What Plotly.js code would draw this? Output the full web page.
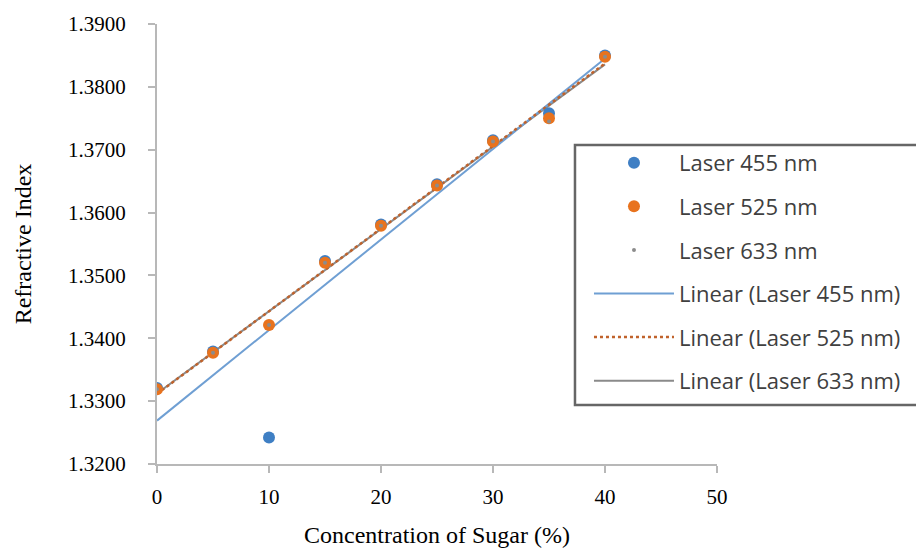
<!DOCTYPE html>
<html>
<head>
<meta charset="utf-8">
<script src="https://cdn.plot.ly/plotly-3.0.1.min.js"></script>
<style>html,body{margin:0;padding:0;background:#fff;}#chart{width:916px;height:548px;}</style>
</head>
<body>
<div id="chart"></div>
<script>
// Data
const concentration = [0, 5, 10, 15, 20, 25, 30, 35, 40];
const laser455 = [1.3321, 1.3379, 1.3242, 1.3523, 1.3581, 1.3645, 1.3715, 1.3758, 1.3850];
const laser525 = [1.3319, 1.3377, 1.3421, 1.3520, 1.3579, 1.3643, 1.3713, 1.3750, 1.3848];
const laser633 = [1.3319, 1.3377, 1.3421, 1.3520, 1.3579, 1.3643, 1.3713, 1.3745, 1.3848];
const seriesNames = ["Laser 455 nm", "Laser 525 nm", "Laser 633 nm"];
const yTickVals = [1.32, 1.33, 1.34, 1.35, 1.36, 1.37, 1.38, 1.39];
const xTickVals = [0, 10, 20, 30, 40, 50];

// least-squares linear trendline (as Excel's "Linear" trendline)
function linFit(xs, ys) {
  const n = xs.length;
  const mx = xs.reduce((a, b) => a + b, 0) / n;
  const my = ys.reduce((a, b) => a + b, 0) / n;
  let sxy = 0, sxx = 0;
  for (let i = 0; i < n; i++) { sxy += (xs[i] - mx) * (ys[i] - my); sxx += (xs[i] - mx) ** 2; }
  const m = sxy / sxx, b = my - m * mx;
  const x0 = Math.min(...xs), x1 = Math.max(...xs);
  return { x: [x0, x1], y: [b + m * x0, b + m * x1] };
}
const f455 = linFit(concentration, laser455);
const f525 = linFit(concentration, laser525);
const f633 = linFit(concentration, laser633);

const legendFont = { family: "Open Sans, sans-serif", size: 22, color: "#404040" };

const traces = [
  { x: f633.x, y: f633.y, mode: "lines", name: "Linear (Laser 633 nm)", legendrank: 6, legendgroup: "g6",
    line: { color: "#8a8a8a", width: 2 } },
  { x: f455.x, y: f455.y, mode: "lines", name: "Linear (Laser 455 nm)", legendrank: 4, legendgroup: "g4",
    line: { color: "#6f9fd3", width: 2 } },
  { x: f525.x, y: f525.y, mode: "lines", name: "Linear (Laser 525 nm)", legendrank: 5, legendgroup: "g5",
    line: { color: "#c0622b", width: 2.5, dash: "dot" } },
  { x: concentration, y: laser455, mode: "markers", name: seriesNames[0], legendrank: 1, legendgroup: "g1",
    marker: { color: "#3f7fc4", size: 12 } },
  { x: concentration, y: laser525, mode: "markers", name: seriesNames[1], legendrank: 2, legendgroup: "g2",
    marker: { color: "#e8731e", size: 12 } },
  { x: concentration, y: laser633, mode: "markers", name: seriesNames[2], legendrank: 3, legendgroup: "g3",
    marker: { color: "#8c8c8c", size: 4 } }
];

const tickFont = { family: "Liberation Serif, Times New Roman, serif", size: 21, color: "#000" };
const titleFont = { family: "Liberation Serif, Times New Roman, serif", size: 24, color: "#000" };

const layout = {
  width: 916, height: 548,
  margin: { l: 157, r: 199, t: 24, b: 84, autoexpand: false },
  paper_bgcolor: "#fff", plot_bgcolor: "#fff",
  showlegend: true,
  xaxis: {
    range: [0, 50], tickvals: xTickVals, ticktext: xTickVals.map(String),
    showgrid: false, zeroline: false, showline: true, linecolor: "#b8b8b8", linewidth: 2,
    ticks: "outside", ticklen: 7, tickwidth: 2, tickcolor: "#b8b8b8",
    tickfont: tickFont, ticklabelstandoff: 6,
    title: { text: "Concentration of Sugar (%)", font: titleFont }
  },
  yaxis: {
    range: [1.32, 1.39], tickvals: yTickVals, ticktext: yTickVals.map(v => v.toFixed(4)),
    showgrid: false, zeroline: false, showline: true, linecolor: "#b8b8b8", linewidth: 2,
    ticks: "outside", ticklen: 7, tickwidth: 2, tickcolor: "#b8b8b8",
    tickfont: tickFont, ticklabelstandoff: 18, automargin: true,
    title: { text: "Refractive Index", font: titleFont, standoff: 30 }
  },
  legend: {
    x: 0.7714, y: 0.732, xanchor: "left", yanchor: "top",
    bgcolor: "rgba(0,0,0,0)", borderwidth: 0,
    font: legendFont, traceorder: "grouped", tracegroupgap: 12, itemwidth: 80
  },
  shapes: [
    { type: "rect", xref: "paper", yref: "paper", x0: 0.7464, x1: 1.5, y0: 0.134, y1: 0.725,
      line: { color: "#666", width: 2.5 }, fillcolor: "rgba(0,0,0,0)", layer: "below" }
  ]
};

Plotly.newPlot("chart", traces, layout, { displayModeBar: false, staticPlot: true });
</script>
</body>
</html>
